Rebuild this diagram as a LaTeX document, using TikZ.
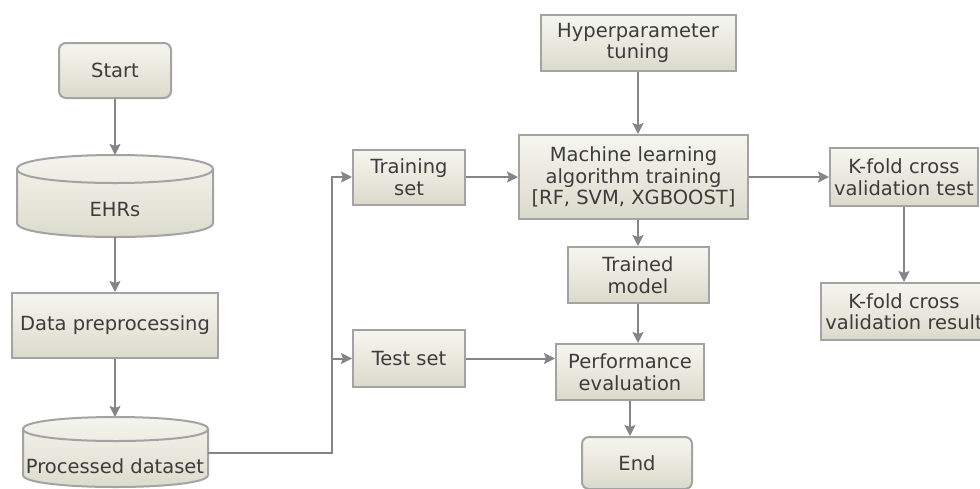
\documentclass[tikz,border=0pt]{standalone}
\usepackage{fontspec}
\setmainfont{DejaVu Sans}
\usetikzlibrary{arrows.meta}

\definecolor{edge}{HTML}{A3A3A3}
\definecolor{wire}{HTML}{858585}
\definecolor{ink}{HTML}{3C3C3C}
\definecolor{fillhi}{HTML}{F6F6F1}
\definecolor{filllo}{HTML}{DADACB}

\tikzset{
  txt/.style={text=ink, align=center, font=\fontsize{19.5}{21.5}\selectfont},
  box/.style={txt, draw=edge, line width=2pt, top color=fillhi, bottom color=filllo, inner sep=2pt},
  term/.style={box, rounded corners=7pt},
  drum/.style={draw=edge, line width=2pt, top color=fillhi, bottom color=filllo},
  link/.style={draw=wire, line width=2pt, -{Stealth[length=11pt, width=11pt, inset=2pt]}},
}

\begin{document}
\begin{tikzpicture}[x=1pt, y=-1pt]
\useasboundingbox (0,0) rectangle (980,488);
\clip (0,0) rectangle (980,488);
\fill[white] (0,0) rectangle (980,488);

% terminals and process boxes
\node[term, minimum width=112, minimum height=55] (start) at (115,70.5) {Start};
\node[box, minimum width=206, minimum height=65] (prep) at (115,325.5) {Data preprocessing};
\node[box, minimum width=112, minimum height=55] (train) at (409,177) {Training\\set};
\node[box, minimum width=112, minimum height=57] (test) at (409,358.5) {Test set};
\node[box, minimum width=195, minimum height=56] (hyper) at (638,43) {Hyperparameter\\tuning};
\node[box, minimum width=229, minimum height=84] (ml) at (633.5,177) {Machine learning\\algorithm training\\{[RF, SVM, XGBOOST]}};
\node[box, minimum width=141, minimum height=56] (trained) at (638,275) {Trained\\model};
\node[box, minimum width=148, minimum height=56] (perf) at (630,372) {Performance\\evaluation};
\node[term, minimum width=110, minimum height=52] (end) at (637,463) {End};
\node[box, minimum width=148, minimum height=58] (ktest) at (904,177) {K-fold cross\\validation test};
\node[box, minimum width=166, minimum height=57] (kres) at (904,311.5) {K-fold cross\\validation result};

% data stores drawn as drums
\path[drum] (17,169) -- (17,223) .. controls (17,241.67) and (213,241.67) .. (213,223)
  -- (213,169) .. controls (213,150.33) and (17,150.33) .. (17,169) -- cycle;
\draw[edge, line width=2pt] (17,169) .. controls (17,187.67) and (213,187.67) .. (213,169);
\node[txt] (ehrs) at (115,210) {EHRs};
\coordinate (ehrsTop) at (115,155);
\coordinate (ehrsBot) at (115,237);

\path[drum] (23,429) -- (23,475) .. controls (23,491) and (208,491) .. (208,475)
  -- (208,429) .. controls (208,413) and (23,413) .. (23,429) -- cycle;
\draw[edge, line width=2pt] (23,429) .. controls (23,445) and (208,445) .. (208,429);
\node[txt] (pdata) at (115,466) {Processed dataset};
\coordinate (pdTop) at (115,417);
\coordinate (pdOut) at (208,453);
\coordinate (split) at (332,453);

% connectors
\draw[link] (start) -- (ehrsTop);
\draw[link] (ehrsBot) -- (prep);
\draw[link] (prep) -- (pdTop);
\draw[link] (pdOut) -- (split) |- (train);
\draw[link] (split |- test) -- (test);
\draw[link] (train) -- (ml);
\draw[link] (hyper) -- (hyper |- ml.north);
\draw[link] (ml.south -| trained) -- (trained);
\draw[link] (trained) -- (trained |- perf.north);
\draw[link] (test) -- (test -| perf.west);
\draw[link] (perf) -- (perf |- end.north);
\draw[link] (ml.east |- ktest) -- (ktest);
\draw[link] (ktest) -- (kres);
\end{tikzpicture}
\end{document}
